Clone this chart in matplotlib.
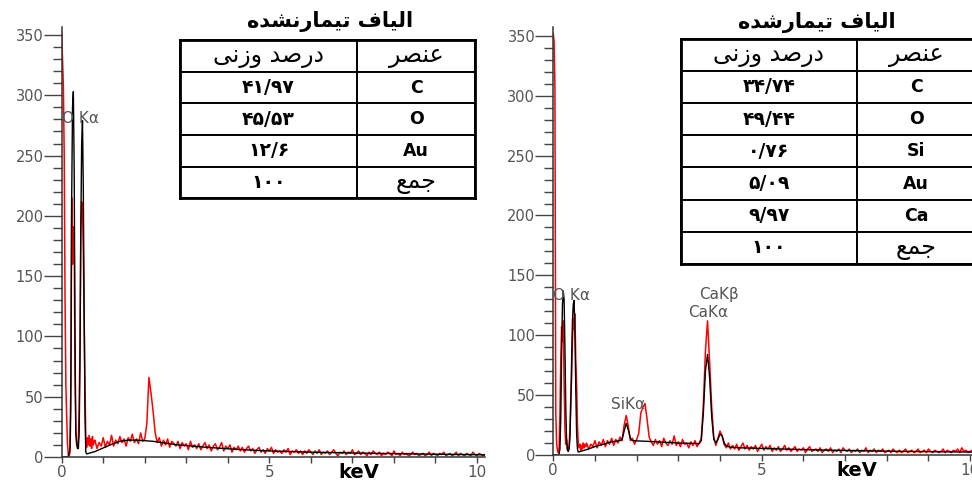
import numpy as np
import matplotlib
matplotlib.use("Agg")
import matplotlib.pyplot as plt
from matplotlib.ticker import MultipleLocator

# ---- data ----
# low energy part, one value every 0.02 keV from 0.00 keV
red_lo_untreated = [352, 330, 307, 250, 130, 60, 33, 10, 2, 1,
                    4, 40, 215, 160, 191, 183, 65, 22, 12, 9,
                    14, 40, 95, 190, 212, 205, 170, 113, 60, 14,
                    8, 16, 10, 18, 9, 15, 7, 17, 10, 13]
black_lo_untreated = [0, 0, 0, 0, 0, 0, 0, 0, 1, 3,
                      8, 65, 215, 290, 303, 240, 100, 20, 10, 7,
                      7, 20, 80, 190, 260, 279, 221, 120, 35, 4]
# background part, one value every 0.05 keV from 0.80 keV
red_bg_untreated = [14, 7, 12, 9, 16, 8, 13, 10, 18, 9,
                    14, 11, 17, 12, 15, 9, 16, 13, 19, 12,
                    15, 11, 20, 13, 15, 28, 66, 53, 38, 20,
                    12, 16, 9, 14, 10, 15, 8, 13, 11, 9,
                    13, 7, 12, 9, 11, 6, 13, 8, 10, 7,
                    11, 6, 9, 12, 7, 10, 5, 9, 11, 6,
                    8, 12, 5, 9, 7, 10, 4, 8, 6, 9,
                    5, 8, 4, 7, 9, 5, 7, 3, 6, 8,
                    4, 6, 3, 7, 5, 8, 3, 6, 4, 5,
                    3, 6, 4, 7, 2, 5, 4, 6, 3, 5,
                    2, 5, 3, 6, 4, 2, 5, 3, 6, 2,
                    4, 3, 5, 2, 4, 6, 3, 1, 4, 3,
                    5, 2, 4, 3, 6, 2, 3, 5, 2, 4,
                    3, 1, 4, 2, 5, 3, 2, 4, 1, 3,
                    2, 4, 3, 1, 5, 2, 3, 1, 4, 2,
                    3, 1, 2, 4, 2, 3, 1, 2, 3, 1,
                    2, 4, 1, 3, 2, 1, 3, 2, 4, 1,
                    2, 3, 1, 2, 4, 1, 3, 2, 1, 3,
                    2, 1, 4, 2, 1, 3, 2, 1, 2]
fit_e_untreated = [0.60, 0.8, 1.0, 1.2, 1.4, 1.6, 1.8, 2.0, 2.2, 2.4, 2.6, 2.8,
                   3.0, 3.5, 4.0, 4.5, 5.0, 5.5, 6.0, 7.0, 8.0, 9.0, 10.0, 10.2]
fit_v_untreated = [2.5, 4.5, 7.5, 10.5, 13, 14, 14, 13.5, 13, 12, 11, 10,
                   9.5, 8, 6.8, 5.8, 5, 4.5, 4, 3.3, 2.8, 2.3, 1.9, 1.8]

red_lo_treated = [352, 345, 308, 36, 10, 4, 2, 6, 35, 80,
                  107, 95, 112, 60, 22, 9, 13, 5, 4, 8,
                  22, 48, 64, 95, 114, 105, 118, 80, 58, 25,
                  10, 6, 9, 4, 8, 5, 10, 6, 9, 7]
black_lo_treated = [0, 0, 0, 0, 0, 0, 0, 1, 5, 30,
                    85, 125, 137, 130, 90, 40, 12, 4, 3, 5,
                    14, 40, 80, 112, 126, 129, 100, 55, 18, 5]
red_bg_treated = [10, 5, 9, 7, 12, 6, 11, 8, 13, 7,
                  12, 9, 14, 8, 13, 10, 15, 12, 25, 33,
                  24, 12, 14, 9, 13, 18, 35, 40, 43, 30,
                  15, 11, 8, 13, 9, 12, 7, 14, 10, 8,
                  12, 9, 16, 8, 11, 7, 13, 9, 10, 6,
                  11, 8, 12, 7, 10, 14, 42, 87, 112, 78,
                  40, 15, 8, 14, 20, 16, 9, 6, 10, 5,
                  8, 5, 9, 4, 7, 10, 5, 8, 4, 7,
                  5, 8, 3, 6, 9, 4, 7, 5, 8, 3,
                  6, 4, 7, 3, 5, 8, 4, 6, 3, 5,
                  7, 3, 5, 4, 6, 2, 5, 7, 3, 4,
                  5, 3, 6, 2, 4, 5, 3, 6, 2, 4,
                  3, 5, 2, 6, 4, 3, 5, 2, 4, 3,
                  5, 2, 4, 3, 6, 2, 4, 3, 5, 2,
                  4, 3, 5, 2, 3, 4, 2, 5, 3, 2,
                  4, 2, 3, 5, 2, 3, 4, 2, 3, 5,
                  2, 3, 4, 2, 5, 3, 2, 4, 3, 2,
                  3, 5, 2, 4, 3, 2, 4, 3, 5, 2,
                  6, 3, 4, 2, 3, 4, 2, 3, 4]
fit_e_treated = [0.60, 0.8, 1.0, 1.2, 1.4, 1.6, 1.65, 1.70, 1.75, 1.80, 1.85, 1.9,
                 2.0, 2.2, 2.5, 3.0, 3.5, 3.55, 3.60, 3.65, 3.70, 3.75, 3.80, 3.85,
                 3.90, 3.95, 4.00, 4.05, 4.10, 4.15, 4.25, 4.5, 5.0, 6.0, 7.0, 8.0,
                 9.0, 10.2]
fit_v_treated = [2.5, 4.5, 7, 9, 11, 12, 13, 20, 26.5, 21, 14, 12,
                 11.8, 11.5, 11, 10, 9.5, 12, 35, 70, 84, 65, 32, 13,
                 10, 13, 17.5, 16, 10, 7.5, 6.5, 6, 5.5, 4.5, 3.8, 3.2,
                 2.8, 2.4]

# tables
elements_untreated = ["C", "O", "Au", "جمع"]
weights_untreated = ["۴۱/۹۷", "۴۵/۵۳", "۱۲/۶", "۱۰۰"]
elements_treated = ["C", "O", "Si", "Au", "Ca", "جمع"]
weights_treated = ["۳۴/۷۴", "۴۹/۴۴", "۰/۷۶", "۵/۰۹", "۹/۹۷", "۱۰۰"]
header = ["درصد وزنی", "عنصر"]
title_untreated = "الیاف تیمارنشده"
title_treated = "الیاف تیمارشده"

# matplotlib does no Arabic shaping, so pick the joined letter forms here
# isolated, final, initial, medial
FA_FORMS = {
    'ا': ('\uFE8D', '\uFE8E'),
    'ت': ('\uFE95', '\uFE96', '\uFE97', '\uFE98'),
    'ج': ('\uFE9D', '\uFE9E', '\uFE9F', '\uFEA0'),
    'د': ('\uFEA9', '\uFEAA'),
    'ر': ('\uFEAD', '\uFEAE'),
    'ز': ('\uFEAF', '\uFEB0'),
    'ش': ('\uFEB5', '\uFEB6', '\uFEB7', '\uFEB8'),
    'ص': ('\uFEB9', '\uFEBA', '\uFEBB', '\uFEBC'),
    'ع': ('\uFEC9', '\uFECA', '\uFECB', '\uFECC'),
    'ف': ('\uFED1', '\uFED2', '\uFED3', '\uFED4'),
    'ل': ('\uFEDD', '\uFEDE', '\uFEDF', '\uFEE0'),
    'م': ('\uFEE1', '\uFEE2', '\uFEE3', '\uFEE4'),
    'ن': ('\uFEE5', '\uFEE6', '\uFEE7', '\uFEE8'),
    'ه': ('\uFEE9', '\uFEEA', '\uFEEB', '\uFEEC'),
    'و': ('\uFEED', '\uFEEE'),
    'ی': ('\uFBFC', '\uFBFD', '\uFBFE', '\uFBFF'),
}


def is_fa(text):
    return any(ch in FA_FORMS for ch in text)


def fa(text):
    if not is_fa(text):
        return text
    out = []
    for i, ch in enumerate(text):
        if ch not in FA_FORMS:
            out.append(ch)
            continue
        forms = FA_FORMS[ch]
        prev = text[i - 1] if i > 0 else ''
        nxt = text[i + 1] if i + 1 < len(text) else ''
        join_prev = prev in FA_FORMS and len(FA_FORMS[prev]) == 4
        join_next = len(forms) == 4 and nxt in FA_FORMS
        out.append(forms[int(join_prev) + 2 * int(join_next)])
    return ''.join(reversed(out))


GREY = '#555555'


def spectrum(ax, red_lo, black_lo, red_bg, fit_e, fit_v, kev_x):
    e_lo = 0.02 * np.arange(len(red_lo))
    e_blo = 0.02 * np.arange(len(black_lo))
    e_bg = 0.80 + 0.05 * np.arange(len(red_bg))
    ax.plot(np.concatenate([e_lo, e_bg]), red_lo + red_bg, color='red', lw=1.1)
    ax.plot(np.concatenate([e_blo, fit_e]), black_lo + fit_v, color='black', lw=1.0)
    ax.set_xlim(0, 10.2)
    ax.set_ylim(0, 357)
    for s in ['top', 'right']:
        ax.spines[s].set_visible(False)
    for s in ['left', 'bottom']:
        ax.spines[s].set_color('#333333')
        ax.spines[s].set_linewidth(1.1)
    ax.yaxis.set_major_locator(MultipleLocator(50))
    ax.yaxis.set_minor_locator(MultipleLocator(10))
    ax.xaxis.set_major_locator(MultipleLocator(5))
    ax.xaxis.set_minor_locator(MultipleLocator(1))
    ax.tick_params(axis='y', which='major', length=13, width=1, color='#444444',
                   labelsize=10.5, labelcolor=GREY, pad=0)
    ax.tick_params(axis='y', which='minor', length=6.5, width=1, color='#444444')
    ax.tick_params(axis='x', which='both', length=4, width=1, color='#444444',
                   labelsize=11, labelcolor=GREY, pad=2)
    ax.text(kev_x, -0.037, 'keV', transform=ax.get_xaxis_transform(),
            ha='center', va='center', fontsize=14, fontweight='bold')


def table(rect, title, elements, weights, title_xy):
    tax = fig.add_axes(rect)
    tax.set_xticks([])
    tax.set_yticks([])
    for s in tax.spines.values():
        s.set_linewidth(2.0)
        s.set_zorder(5)
    rows = [header] + [[w, e] for w, e in zip(weights, elements)]
    tb = tax.table(cellText=[[fa(t) for t in row] for row in rows],
                   colWidths=[0.6, 0.4], cellLoc='center', bbox=[0, 0, 1, 1])
    tb.auto_set_font_size(False)
    for (r, c), cell in tb.get_celld().items():
        cell.set_linewidth(1.4)
        txt = cell.get_text()
        if is_fa(rows[r][c]):
            txt.set_fontsize(17)
        else:
            txt.set_fontsize(13.5 if c == 0 else 12.5)
            txt.set_fontweight('bold')
    fig.text(title_xy[0], title_xy[1], fa(title), ha='center', va='center',
             fontsize=15, fontweight='bold')


fig = plt.figure(figsize=(9.72, 4.82), dpi=100)
plt.rcParams['font.family'] = ['DejaVu Sans']

ax1 = fig.add_axes([0.0635, 0.0519, 0.4358, 0.893])
spectrum(ax1, red_lo_untreated, black_lo_untreated, red_bg_untreated,
         fit_e_untreated, fit_v_untreated, 7.15)
ax1.text(0.0, 281, 'O Kα', color=GREY, fontsize=11, va='center')

ax2 = fig.add_axes([0.5692, 0.056, 0.4375, 0.887])
spectrum(ax2, red_lo_treated, black_lo_treated, red_bg_treated,
         fit_e_treated, fit_v_treated, 7.28)
ax2.text(0.0, 133, 'O Kα', color=GREY, fontsize=11, va='center')
ax2.text(1.8, 42, 'SiKα', color=GREY, fontsize=11, ha='center', va='center')
ax2.text(3.97, 134, 'CaKβ', color=GREY, fontsize=11, ha='center', va='center')
ax2.text(3.71, 119, 'CaKα', color=GREY, fontsize=11, ha='center', va='center')

table([0.1852, 0.589, 0.3035, 0.3278], title_untreated,
      elements_untreated, weights_untreated, (0.3395, 0.956))
table([0.7003, 0.4523, 0.3028, 0.4674], title_treated,
      elements_treated, weights_treated, (0.840, 0.954))

fig.savefig('out.png', dpi=100)
